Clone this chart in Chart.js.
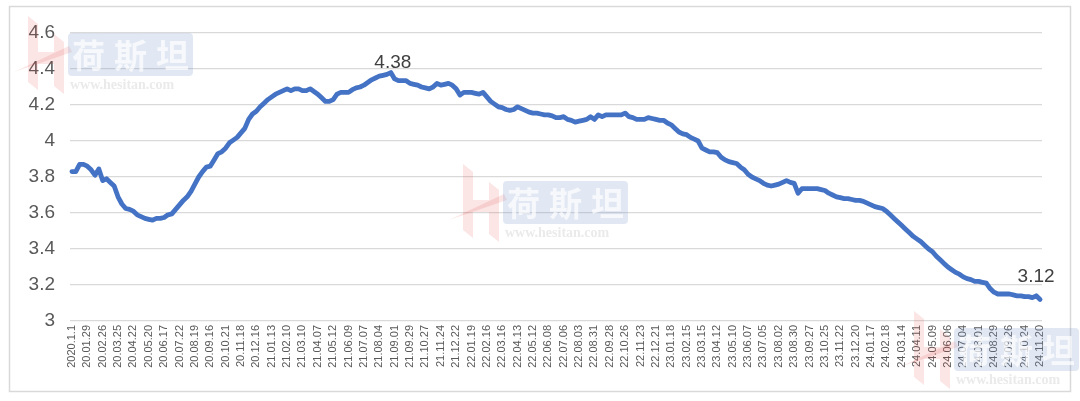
<!DOCTYPE html>
<html>
<head>
<meta charset="utf-8">
<script src="https://cdn.jsdelivr.net/npm/chart.js@4.4.1/dist/chart.umd.min.js"></script>
<style>
  html, body { margin: 0; padding: 0; background: #ffffff; }
  #wrap { width: 1080px; height: 401px; }
</style>
</head>
<body>
<div id="wrap"><canvas id="c" width="1080" height="401"></canvas></div>
<script>
// Tick labels shown on the category axis (one every 4 weekly observations)
const tickLabels = [
  "2020.1.1","20.01.29","20.02.26","20.03.25","20.04.22","20.05.20","20.06.17","20.07.22",
  "20.08.19","20.09.16","20.10.21","20.11.18","20.12.16","21.01.13","21.02.10","21.03.10",
  "21.04.07","21.05.12","21.06.09","21.07.07","21.08.04","21.09.01","21.09.29","21.10.27",
  "21.11.24","21.12.22","22.01.19","22.02.16","22.03.16","22.04.13","22.05.12","22.06.08",
  "22.07.06","22.08.03","22.08.31","22.09.28","22.10.26","22.11.23","22.12.21","23.01.18",
  "23.02.15","23.03.15","23.04.12","23.05.10","23.06.07","23.07.05","23.08.02","23.08.30",
  "23.09.27","23.10.25","23.11.22","23.12.20","24.01.17","24.02.18","24.03.14","24.04.11",
  "24.05.09","24.06.06","24.07.04","24.08.01","24.08.29","24.09.26","24.10.24","24.11.20"
];
const labelEvery = 4;

// Weekly series values
const values = [
  3.83,3.83,3.87,3.87,3.86,3.84,3.81,3.845,3.78,3.79,3.77,3.75,3.69,3.65,3.625,3.62,
  3.61,3.59,3.58,3.57,3.565,3.56,3.57,3.57,3.575,3.59,3.595,3.62,3.645,3.67,3.69,3.72,
  3.76,3.80,3.83,3.855,3.86,3.895,3.93,3.94,3.96,3.99,4.005,4.02,4.045,4.07,4.12,4.15,
  4.165,4.19,4.21,4.23,4.245,4.26,4.27,4.28,4.29,4.28,4.29,4.29,4.28,4.28,4.29,4.275,
  4.26,4.24,4.22,4.22,4.23,4.26,4.27,4.27,4.27,4.285,4.295,4.30,4.31,4.325,4.34,4.35,
  4.36,4.365,4.37,4.38,4.345,4.335,4.335,4.335,4.32,4.315,4.31,4.30,4.295,4.29,4.30,4.32,
  4.31,4.315,4.32,4.31,4.29,4.255,4.27,4.27,4.27,4.265,4.26,4.27,4.245,4.22,4.205,4.19,
  4.185,4.175,4.17,4.175,4.19,4.18,4.17,4.16,4.155,4.155,4.15,4.145,4.145,4.14,4.13,4.13,
  4.135,4.12,4.115,4.105,4.11,4.115,4.12,4.135,4.12,4.145,4.135,4.145,4.145,4.145,4.145,4.145,
  4.155,4.135,4.13,4.12,4.12,4.12,4.13,4.125,4.12,4.115,4.115,4.10,4.09,4.07,4.05,4.04,
  4.035,4.02,4.01,4.00,3.96,3.95,3.94,3.94,3.935,3.91,3.895,3.885,3.88,3.875,3.855,3.84,
  3.815,3.80,3.79,3.78,3.765,3.755,3.75,3.755,3.76,3.77,3.78,3.77,3.765,3.71,3.735,3.735,
  3.735,3.735,3.735,3.73,3.725,3.71,3.70,3.69,3.685,3.68,3.68,3.675,3.67,3.67,3.665,3.655,
  3.645,3.635,3.63,3.625,3.61,3.59,3.57,3.55,3.53,3.51,3.49,3.47,3.455,3.44,3.42,3.40,
  3.385,3.36,3.34,3.32,3.30,3.285,3.27,3.26,3.245,3.235,3.23,3.22,3.22,3.215,3.21,3.18,
  3.16,3.15,3.15,3.15,3.15,3.145,3.14,3.14,3.135,3.135,3.13,3.14,3.12
];

// Points that carry a value label, and the y-axis range
const labelledPoints = [83, values.length - 1];
const yMin = 3, yMax = 4.6, yStep = 0.2;

const categories = values.map((v, i) => (i % labelEvery === 0 ? tickLabels[i / labelEvery] : ""));

const frameAndMarks = {
  id: "frameAndMarks",
  beforeDraw(chart) {
    const ctx = chart.ctx;
    ctx.save();
    ctx.fillStyle = "#ffffff";
    ctx.fillRect(0, 0, chart.width, chart.height);
    ctx.strokeStyle = "#d9d9d9";
    ctx.lineWidth = 1.5;
    ctx.strokeRect(9.5, 6.5, 1061, 385);
    ctx.restore();
  },
  afterDatasetsDraw(chart) {
    const ctx = chart.ctx;
    const meta = chart.getDatasetMeta(0);
    ctx.save();
    ctx.fillStyle = "#404040";
    ctx.font = "19px 'Liberation Sans', Arial, sans-serif";
    ctx.textAlign = "center";
    ctx.textBaseline = "bottom";
    labelledPoints.forEach((idx, k) => {
      const p = meta.data[idx];
      const gap = k === 0 ? 0 : 13;
      const dx = k === 0 ? 2 : -4;
      ctx.fillText(values[idx].toFixed(2), p.x + dx, p.y - gap);
    });
    ctx.restore();
  },
  afterDraw(chart) {
    const ctx = chart.ctx;
    const marks = [[14, 12], [449, 160], [900, 307]];
    marks.forEach(([x, y]) => {
      ctx.save();
      // red stylised H
      ctx.fillStyle = "rgba(225,70,70,0.14)";
      ctx.beginPath();
      ctx.moveTo(x + 14, y + 4); ctx.lineTo(x + 24, y + 12); ctx.lineTo(x + 24, y + 40);
      ctx.lineTo(x + 40, y + 40); ctx.lineTo(x + 40, y + 22); ctx.lineTo(x + 50, y + 30);
      ctx.lineTo(x + 50, y + 82); ctx.lineTo(x + 40, y + 74); ctx.lineTo(x + 40, y + 52);
      ctx.lineTo(x + 24, y + 52); ctx.lineTo(x + 24, y + 78); ctx.lineTo(x + 14, y + 70);
      ctx.closePath(); ctx.fill();
      ctx.beginPath();
      ctx.moveTo(x, y + 60); ctx.lineTo(x + 55, y + 34); ctx.lineTo(x + 58, y + 40); ctx.closePath();
      ctx.fill();
      // blue box with white characters
      ctx.fillStyle = "rgba(120,148,200,0.22)";
      ctx.beginPath();
      if (ctx.roundRect) ctx.roundRect(x + 54, y + 21, 125, 43, 4); else ctx.rect(x + 54, y + 21, 125, 43);
      ctx.fill();
      ctx.fillStyle = "rgba(255,255,255,0.7)";
      ctx.font = "bold 33px 'Noto Sans CJK SC', sans-serif";
      ctx.textAlign = "left";
      ctx.textBaseline = "middle";
      ctx.fillText("荷", x + 58, y + 43);
      ctx.fillText("斯", x + 100, y + 43);
      ctx.fillText("坦", x + 142, y + 43);
      ctx.fillStyle = "rgba(160,160,160,0.22)";
      ctx.font = "bold 14px 'Liberation Serif', serif";
      ctx.fillText("www.hesitan.com", x + 56, y + 73);
      ctx.restore();
    });
  }
};

new Chart(document.getElementById("c"), {
  type: "line",
  data: {
    labels: categories,
    datasets: [{
      data: values,
      borderColor: "#4472C4",
      borderWidth: 4.8,
      pointRadius: 0,
      pointHoverRadius: 0,
      tension: 0,
      borderJoinStyle: "round",
      borderCapStyle: "round",
      fill: false
    }]
  },
  options: {
    responsive: false,
    animation: false,
    devicePixelRatio: 1,
    layout: { padding: { left: 0, right: 38, top: 33, bottom: 0 } },
    plugins: { legend: { display: false }, tooltip: { enabled: false } },
    scales: {
      x: {
        type: "category",
        offset: true,
        grid: { display: false, drawTicks: false },
        border: { display: false },
        afterFit(scale) { scale.height = 80; },
        ticks: {
          autoSkip: false,
          maxRotation: 90,
          minRotation: 90,
          padding: 4,
          color: "#595959",
          font: { family: "'Liberation Sans', Arial, sans-serif", size: 11 }
        }
      },
      y: {
        min: yMin,
        max: yMax,
        afterFit(scale) { scale.width = 70; },
        grid: { color: "#d9d9d9", lineWidth: 1.3, drawTicks: false },
        border: { display: false },
        ticks: {
          stepSize: yStep,
          padding: 15,
          color: "#595959",
          font: { family: "'Liberation Sans', Arial, sans-serif", size: 19 },
          callback: (v) => String(+Number(v).toFixed(1))
        }
      }
    }
  },
  plugins: [frameAndMarks]
});
</script>
</body>
</html>
